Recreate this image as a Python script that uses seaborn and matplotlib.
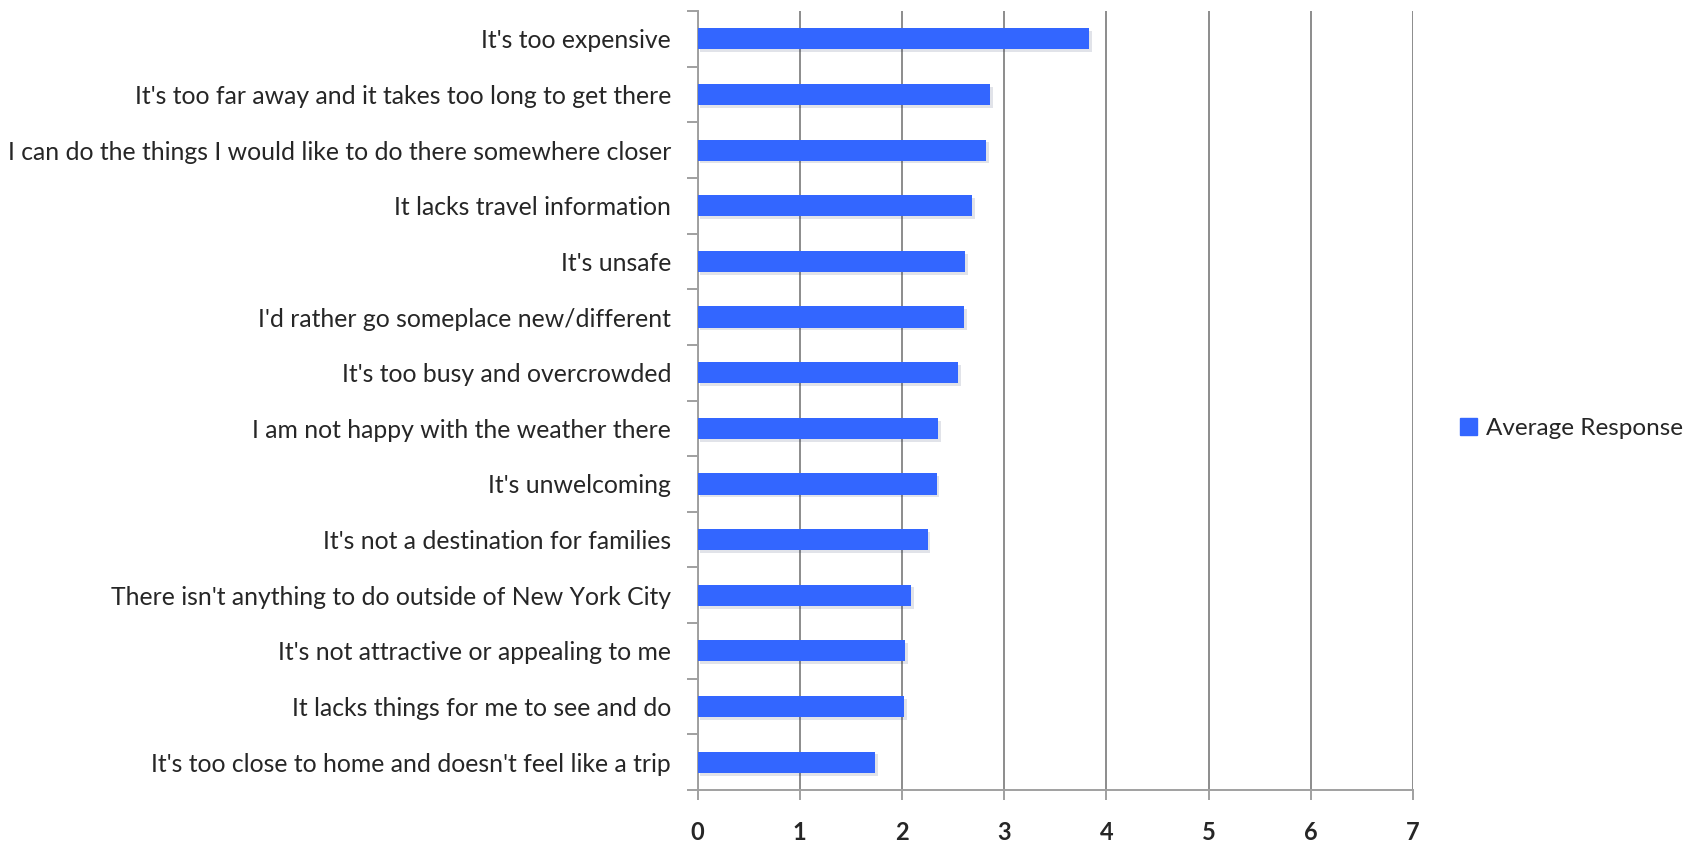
import pandas as pd
import matplotlib
matplotlib.use("Agg")
import matplotlib.pyplot as plt
import matplotlib.patheffects as pe
from matplotlib.ticker import FixedLocator
import seaborn as sns

# survey answers, top to bottom as in the chart
reasons = [
    "It's too expensive",
    "It's too far away and it takes too long to get there",
    "I can do the things I would like to do there somewhere closer",
    "It lacks travel information",
    "It's unsafe",
    "I'd rather go someplace new/different",
    "It's too busy and overcrowded",
    "I am not happy with the weather there",
    "It's unwelcoming",
    "It's not a destination for families",
    "There isn't anything to do outside of New York City",
    "It's not attractive or appealing to me",
    "It lacks things for me to see and do",
    "It's too close to home and doesn't feel like a trip",
]
avg_response = [3.83, 2.86, 2.82, 2.69, 2.62, 2.61, 2.55,
                2.35, 2.34, 2.25, 2.09, 2.03, 2.02, 1.74]
x_ticks = [0, 1, 2, 3, 4, 5, 6, 7]
series_name = "Average Response"

df = pd.DataFrame({"reason": reasons, "value": avg_response})

sns.set_style("white")
plt.rcParams["font.family"] = ["Lato", "DejaVu Sans"]

fig = plt.figure(figsize=(16.96, 8.41), dpi=100)
ax = fig.add_axes([0.4113, 0.0606, 0.4218, 0.9263])

bar_color = "#3366ff"
sns.barplot(data=df, x="value", y="reason", orient="h", color=bar_color,
            saturation=1, width=0.38, linewidth=0, ax=ax, zorder=3)
for p in ax.patches:
    p.set_path_effects([pe.SimplePatchShadow(offset=(2, -2), alpha=0.12),
                        pe.Normal()])

ax.set_xlim(0, 7)
ax.set_ylim(len(reasons) - 0.5, -0.5)
ax.set_xticks(x_ticks)
ax.set_xticklabels([str(t) for t in x_ticks], fontsize=17, fontweight="bold")
ax.set_xlabel("")
ax.set_ylabel("")

# vertical gridlines
ax.grid(axis="x", color="#8c8c8c", linewidth=1.4, zorder=0)
ax.grid(axis="y", visible=False)

for side in ["top", "right"]:
    ax.spines[side].set_visible(False)
for side in ["left", "bottom"]:
    ax.spines[side].set_color("#a0a0a0")
    ax.spines[side].set_linewidth(1.4)

ax.tick_params(axis="x", length=7, width=1.4, color="#a0a0a0", pad=15,
               direction="out", bottom=True)
ax.tick_params(axis="y", which="major", length=0, pad=19, labelsize=17.8)
ax.yaxis.set_minor_locator(FixedLocator([i - 0.5 for i in range(len(reasons) + 1)]))
ax.tick_params(axis="y", which="minor", length=8, width=1.4, color="#a0a0a0",
               direction="out", left=True)

legend_patch = plt.Rectangle((0, 0), 1, 1, color=bar_color)
fig.legend(handles=[legend_patch], labels=[series_name],
           loc="center left", bbox_to_anchor=(0.848, 0.491),
           frameon=False, fontsize=17.5, handlelength=0.7,
           handleheight=0.7, handletextpad=0.35)

fig.savefig("out.png", dpi=100)
